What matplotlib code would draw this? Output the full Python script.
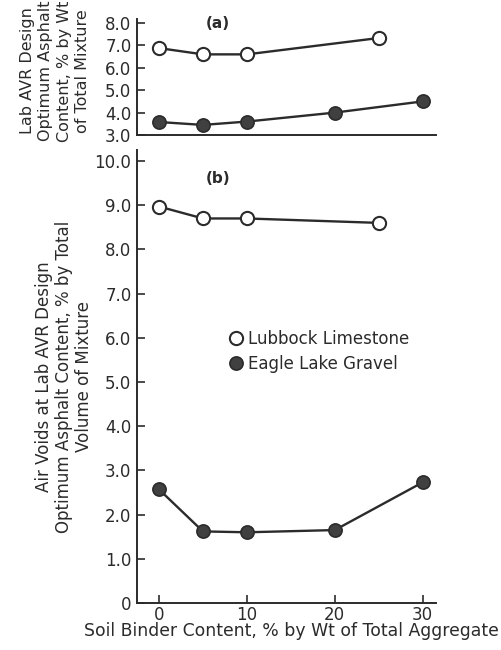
import matplotlib
matplotlib.use("Agg")
import matplotlib.pyplot as plt

# Soil binder content (% by wt of total aggregate)
lubbock_x = [0, 5, 10, 25]
eagle_x = [0, 5, 10, 20, 30]

# (a) Optimum asphalt content, % by wt of total mixture
lubbock_oac = [6.88, 6.6, 6.6, 7.33]
eagle_oac = [3.58, 3.45, 3.6, 4.0, 4.5]

# (b) Air voids at optimum asphalt content, % by total volume
lubbock_voids = [8.97, 8.7, 8.7, 8.6]
eagle_voids = [2.57, 1.62, 1.6, 1.65, 2.73]

x_ticks = [0, 10, 20, 30]
x_tick_labels = ["0", "10", "20", "30"]
a_ticks = [3.0, 4.0, 5.0, 6.0, 7.0, 8.0]
a_tick_labels = ["3.0", "4.0", "5.0", "6.0", "7.0", "8.0"]
b_ticks = [0, 1, 2, 3, 4, 5, 6, 7, 8, 9, 10]
b_tick_labels = ["0", "1.0", "2.0", "3.0", "4.0", "5.0", "6.0", "7.0", "8.0", "9.0", "10.0"]

plt.rcParams["font.family"] = ["DejaVu Sans"]
ink = "#2b2b2b"
fill = "#404040"

fig = plt.figure(figsize=(5.01, 6.5), dpi=100)
ax_a = fig.add_axes([0.2735, 0.7923, 0.5965, 0.1792])
ax_b = fig.add_axes([0.2735, 0.0723, 0.5965, 0.697])

open_style = dict(color=ink, lw=1.7, marker="o", ms=9.5, mfc="white", mec=ink, mew=1.5)
fill_style = dict(color=ink, lw=1.7, marker="o", ms=9.5, mfc=fill, mec=ink, mew=1.2)

ax_a.plot(lubbock_x, lubbock_oac, **open_style)
ax_a.plot(eagle_x, eagle_oac, **fill_style)
ax_b.plot(lubbock_x, lubbock_voids, label="Lubbock Limestone", **open_style)
ax_b.plot(eagle_x, eagle_voids, label="Eagle Lake Gravel", **fill_style)

for ax in (ax_a, ax_b):
    ax.set_xlim(-2.5, 31.5)
    for s in ("top", "right"):
        ax.spines[s].set_visible(False)
    for s in ("left", "bottom"):
        ax.spines[s].set_color(ink)
        ax.spines[s].set_linewidth(1.4)
    ax.tick_params(axis="y", direction="in", length=6, width=1.2, color=ink,
                   labelsize=12, labelcolor=ink, pad=4)

ax_a.set_ylim(3.0, 8.2)
ax_a.set_yticks(a_ticks, a_tick_labels)
ax_a.tick_params(axis="x", bottom=False, labelbottom=False)
ax_a.text(0.27, 0.96, "(a)", transform=ax_a.transAxes, ha="center", va="center",
          fontsize=11, color=ink, fontweight="bold")
ax_a.set_ylabel("Lab AVR Design\nOptimum Asphalt\nContent, % by Wt\nof Total Mixture",
                fontsize=11.5, color=ink, linespacing=1.28)
ax_a.yaxis.set_label_coords(-0.157, 0.55)

ax_b.set_ylim(0, 10.25)
ax_b.set_yticks(b_ticks, b_tick_labels)
ax_b.set_xticks(x_ticks, x_tick_labels)
ax_b.tick_params(axis="x", direction="in", length=6, width=1.2, color=ink,
                 labelsize=12, labelcolor=ink, pad=2)
ax_b.text(0.27, 0.938, "(b)", transform=ax_b.transAxes, ha="center", va="center",
          fontsize=11, color=ink, fontweight="bold")
ax_b.set_ylabel("Air Voids at Lab AVR Design\nOptimum Asphalt Content, % by Total\nVolume of Mixture",
                fontsize=12, color=ink, linespacing=1.15)
ax_b.yaxis.set_label_coords(-0.147, 0.5)
ax_b.set_xlabel("Soil Binder Content, % by Wt of Total Aggregate",
                fontsize=12.4, color=ink)
ax_b.xaxis.set_label_coords(0.518, -0.043)
ax_b.legend(loc="center left", bbox_to_anchor=(0.31, 0.555), frameon=False,
            fontsize=12, handlelength=0.0, handletextpad=0.7, labelspacing=0.4,
            labelcolor=ink, borderaxespad=0)

fig.savefig("out.png", dpi=100, facecolor="white")
